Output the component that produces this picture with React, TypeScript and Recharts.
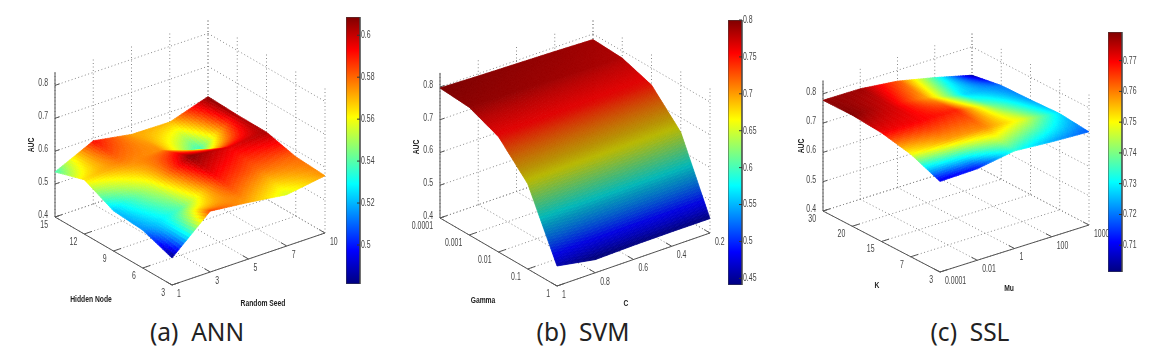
import { Bar, BarChart, Scatter, ScatterChart, XAxis, YAxis } from 'recharts';

const annSeeds = ['1', '3', '5', '7', '10'];
const annNodes = ['15', '12', '9', '6', '3'];
const annAuc = [
  [0.537, 0.592, 0.572, 0.57, 0.608],
  [0.565, 0.577, 0.575, 0.535, 0.604],
  [0.522, 0.555, 0.608, 0.596, 0.603],
  [0.515, 0.54, 0.59, 0.58, 0.58],
  [0.482, 0.585, 0.572, 0.556, 0.574],
];
const annBarTicks = [0.5, 0.52, 0.54, 0.56, 0.58, 0.6];

const svmC = ['1', '0.8', '0.6', '0.4', '0.2'];
const svmGamma = ['0.0001', '0.001', '0.01', '0.1', '1'];
const svmAuc = [
  [0.797, 0.793, 0.79, 0.787, 0.783],
  [0.79, 0.788, 0.785, 0.782, 0.778],
  [0.752, 0.751, 0.75, 0.749, 0.748],
  [0.66, 0.659, 0.658, 0.657, 0.656],
  [0.461, 0.44, 0.443, 0.444, 0.444],
];
const svmBarTicks = [0.45, 0.5, 0.55, 0.6, 0.65, 0.7, 0.75, 0.8];

const sslMu = ['0.0001', '0.01', '1', '100', '1000'];
const sslK = ['30', '20', '15', '7', '3'];
const sslAuc = [
  [0.778, 0.777, 0.763, 0.735, 0.703],
  [0.779, 0.773, 0.757, 0.728, 0.72],
  [0.771, 0.77, 0.767, 0.74, 0.723],
  [0.75, 0.757, 0.759, 0.748, 0.728],
  [0.709, 0.712, 0.733, 0.724, 0.718],
];
const sslBarTicks = [0.71, 0.72, 0.73, 0.74, 0.75, 0.76, 0.77];

const aucTicks = [0.4, 0.5, 0.6, 0.7, 0.8];

const W = 400;
const H = 358;
const FONT = '"Liberation Sans", Arial, sans-serif';
const TICK_NARROW = 0.63;
const TITLE_NARROW = 0.75;
const JET: [number, string][] = [
  [0, '#00007f'],
  [0.125, '#0000ff'],
  [0.375, '#00ffff'],
  [0.625, '#ffff00'],
  [0.875, '#ff0000'],
  [1, '#7f0000'],
];

type Pt = [number, number];
type PanelCfg = {
  id: string;
  left: number;
  L: Pt;
  B: Pt;
  F: Pt;
  zScale: number;
  zTop: number;
  uLabels: string[];
  vLabels: string[];
  auc: number[][];
  cMin: number;
  cMax: number;
  barTicks: number[];
  bar: { left: number; top: number; height: number };
  titles: { text: string; x: number; y: number; rotate?: number }[];
  dim: boolean;
  steps: number;
  blur: number;
};

const panels: PanelCfg[] = [
  {
    id: 'ann', left: 0, L: [55, 217], B: [208, 165], F: [172, 285], zScale: 329, zTop: 0.84,
    uLabels: annSeeds, vLabels: annNodes, auc: annAuc, cMin: 0.4814, cMax: 0.6087, barTicks: annBarTicks,
    bar: { left: 346, top: 17, height: 267 }, dim: false, steps: 16, blur: 0.3,
    titles: [
      { text: 'AUC', x: 32, y: 145, rotate: -90 },
      { text: 'Hidden Node', x: 91, y: 300 },
      { text: 'Random Seed', x: 263, y: 304 },
    ],
  },
  {
    id: 'svm', left: 390, L: [50, 218], B: [203, 165], F: [167, 286], zScale: 327.5, zTop: 0.843,
    uLabels: svmC, vLabels: svmGamma, auc: svmAuc, cMin: 0.441, cMax: 0.8, barTicks: svmBarTicks,
    bar: { left: 338, top: 20, height: 265 }, dim: true, steps: 32, blur: 0.3,
    titles: [
      { text: 'AUC', x: 27, y: 147, rotate: -90 },
      { text: 'Gamma', x: 93, y: 301 },
      { text: 'C', x: 236, y: 304 },
    ],
  },
  {
    id: 'ssl', left: 780, L: [43, 211], B: [192, 164], F: [160, 272], zScale: 293, zTop: 0.845,
    uLabels: sslMu, vLabels: sslK, auc: sslAuc, cMin: 0.7013, cMax: 0.7793, barTicks: sslBarTicks,
    bar: { left: 328, top: 32, height: 240 }, dim: false, steps: 16, blur: 0.6,
    titles: [
      { text: 'AUC', x: 22, y: 146, rotate: -90 },
      { text: 'K', x: 97, y: 286 },
      { text: 'Mu', x: 229, y: 289 },
    ],
  },
];

const captions = [
  { text: '(a)  ANN', center: 197 },
  { text: '(b)  SVM', center: 583 },
  { text: '(c)  SSL', center: 970 },
];

function hexRgb(hex: string) {
  return [1, 3, 5].map((i) => parseInt(hex.slice(i, i + 2), 16));
}

function jet(t: number, dim: boolean) {
  const c = Math.min(1, Math.max(0, t));
  let i = 0;
  while (i < JET.length - 2 && c > JET[i + 1][0]) i++;
  const [p0, h0] = JET[i];
  const [p1, h1] = JET[i + 1];
  const a = hexRgb(h0);
  const b = hexRgb(h1);
  const f = (c - p0) / (p1 - p0);
  let rgb = a.map((v, k) => v + (b[k] - v) * f);
  if (dim) {
    // the svm surface is lit: bright hues come out duller than on its colour bar
    const sum = rgb[0] + rgb[1] + rgb[2];
    const k = 0.92 - 0.2 * Math.min(1, Math.max(0, (sum - 200) / 255));
    rgb = rgb.map((v) => v * k);
  }
  return `rgb(${Math.round(rgb[0])},${Math.round(rgb[1])},${Math.round(rgb[2])})`;
}

function project(p: PanelCfg, u: number, v: number, z: number) {
  const fu = u / 4;
  const fv = v / 4;
  return {
    sx: p.L[0] + fu * (p.B[0] - p.L[0]) + fv * (p.F[0] - p.L[0]),
    sy: p.L[1] + fu * (p.B[1] - p.L[1]) + fv * (p.F[1] - p.L[1]) - (z - 0.4) * p.zScale,
  };
}

const NoDot = () => null;

// the scatter hands over the grid vertices in pixels, so the facets are shaded from those
function surfaceLine(p: PanelCfg) {
  return (props: any) => {
    const pts: { x: number; y: number }[] = props.points;
    const n = p.auc.length;
    const m = p.auc[0].length;
    const steps = p.steps;
    const cells = [];
    for (let v = 0; v < n - 1; v++) {
      for (let u = m - 2; u >= 0; u--) {
        const a = pts[v * m + u];
        const b = pts[v * m + u + 1];
        const c = pts[(v + 1) * m + u + 1];
        const d = pts[(v + 1) * m + u];
        const za = p.auc[v][u];
        const zb = p.auc[v][u + 1];
        const zc = p.auc[v + 1][u + 1];
        const zd = p.auc[v + 1][u];
        const at = (s: number, t: number) => ({
          x: (a.x * (1 - s) + b.x * s) * (1 - t) + (d.x * (1 - s) + c.x * s) * t,
          y: (a.y * (1 - s) + b.y * s) * (1 - t) + (d.y * (1 - s) + c.y * s) * t,
        });
        for (let j = 0; j < steps; j++) {
          for (let i = steps - 1; i >= 0; i--) {
            const s0 = i / steps;
            const s1 = (i + 1) / steps;
            const t0 = j / steps;
            const t1 = (j + 1) / steps;
            const sm = (s0 + s1) / 2;
            const tm = (t0 + t1) / 2;
            const z = (za * (1 - sm) + zb * sm) * (1 - tm) + (zd * (1 - sm) + zc * sm) * tm;
            const col = jet((z - p.cMin) / (p.cMax - p.cMin), p.dim);
            const q = [at(s0, t0), at(s1, t0), at(s1, t1), at(s0, t1)];
            cells.push(
              <polygon
                key={`${v}-${u}-${j}-${i}`}
                points={q.map((o) => `${o.x},${o.y}`).join(' ')}
                fill={col}
                stroke={col}
                strokeWidth={0.7}
              />,
            );
          }
        }
      }
    }
    return <g>{cells}</g>;
  };
}

function textShape(anchor: string, size: number, bold: boolean, dx: number, dy: number) {
  return (props: any) => {
    const rot = props.payload.rotate;
    const x = props.cx + dx;
    const y = props.cy + dy;
    return (
      <text
        x={0}
        y={0}
        textAnchor={anchor}
        dominantBaseline="middle"
        fontSize={size}
        fontWeight={bold ? 700 : 400}
        fontFamily={FONT}
        fill={bold ? '#222' : '#444'}
        transform={`translate(${x} ${y}) rotate(${rot || 0}) scale(${bold ? TITLE_NARROW : TICK_NARROW} 1)`}
      >
        {props.payload.label}
      </text>
    );
  };
}

function BarTick(props: any) {
  return (
    <text
      x={0}
      y={0}
      dominantBaseline="middle"
      fontSize={11}
      fontFamily={FONT}
      fill="#444"
      transform={`translate(${props.x} ${props.y}) scale(${TICK_NARROW} 1)`}
    >
      {String(props.payload.value)}
    </text>
  );
}

function buildSegments(p: PanelCfg) {
  const segs: { kind: 'grid' | 'axis'; data: { sx: number; sy: number }[] }[] = [];
  const grid = (a: number[], b: number[]) =>
    segs.push({ kind: 'grid', data: [project(p, a[0], a[1], a[2]), project(p, b[0], b[1], b[2])] });
  const axis = (a: number[], b: number[]) =>
    segs.push({ kind: 'axis', data: [project(p, a[0], a[1], a[2]), project(p, b[0], b[1], b[2])] });
  p.uLabels.forEach((_, u) => {
    grid([u, 0, 0.4], [u, 4, 0.4]);
    grid([u, 0, 0.4], [u, 0, p.zTop]);
    axis([u, 4, 0.4], [u, 3.8, 0.4]);
  });
  p.vLabels.forEach((_, v) => {
    grid([0, v, 0.4], [4, v, 0.4]);
    grid([4, v, 0.4], [4, v, p.zTop]);
    axis([0, v, 0.4], [0.2, v, 0.4]);
  });
  aucTicks.forEach((z) => {
    grid([0, 0, z], [4, 0, z]);
    grid([4, 0, z], [4, 4, z]);
    axis([0, 0, z], [0.12, 0, z]);
  });
  axis([0, 0, 0.4], [0, 0, p.zTop]);
  axis([0, 0, 0.4], [0, 4, 0.4]);
  axis([0, 4, 0.4], [4, 4, 0.4]);
  return segs;
}

function ColorBar({ p }: { p: PanelCfg }) {
  const barW = 14;
  const axisW = 34;
  const pad = 8;
  const gid = `jet-${p.id}`;
  return (
    <div style={{ position: 'absolute', left: p.bar.left, top: p.bar.top - pad }}>
      <BarChart
        width={barW + axisW}
        height={p.bar.height + pad * 2}
        data={[{ name: 'auc', range: [p.cMin, p.cMax] }]}
        margin={{ top: pad, right: 0, bottom: pad, left: 0 }}
        barCategoryGap={0}
      >
        <defs>
          <linearGradient id={gid} x1="0" y1="1" x2="0" y2="0">
            {JET.map(([pos, col]) => (
              <stop key={pos} offset={pos} stopColor={col} />
            ))}
          </linearGradient>
        </defs>
        <XAxis dataKey="name" hide />
        <YAxis
          orientation="right"
          width={axisW}
          type="number"
          domain={[p.cMin, p.cMax]}
          ticks={p.barTicks}
          interval={0}
          allowDataOverflow
          tickSize={-3}
          tickMargin={4}
          axisLine={{ stroke: '#444' }}
          tickLine={{ stroke: '#333' }}
          tick={BarTick}
        />
        <Bar dataKey="range" fill={`url(#${gid})`} stroke="#444" strokeWidth={1} isAnimationActive={false} />
      </BarChart>
    </div>
  );
}

function Panel({ p }: { p: PanelCfg }) {
  const vertices = p.auc.flatMap((row, v) => row.map((z, u) => project(p, u, v, z)));
  const segs = buildSegments(p);
  const aucLabels = aucTicks.map((z) => ({ ...project(p, 0, 0, z), label: String(z) }));
  const uTicks = p.uLabels.map((label, u) => ({ ...project(p, u, 4, 0.4), label }));
  const vTicks = p.vLabels.map((label, v) => ({ ...project(p, 0, v, 0.4), label }));
  const titles = p.titles.map((t) => ({ sx: t.x, sy: t.y, label: t.text, rotate: t.rotate }));
  return (
    <div style={{ position: 'absolute', left: p.left, top: 0, width: W, height: H, filter: `blur(${p.blur}px)` }}>
      <ScatterChart width={W} height={H} margin={{ top: 0, right: 0, bottom: 0, left: 0 }}>
        <XAxis type="number" dataKey="sx" domain={[0, W]} hide />
        <YAxis type="number" dataKey="sy" domain={[0, H]} reversed hide />
        {segs.map((s, i) => (
          <Scatter
            key={i}
            data={s.data}
            shape={NoDot}
            line={
              s.kind === 'grid'
                ? { stroke: '#888', strokeWidth: 1, strokeDasharray: '1 2.5' }
                : { stroke: '#555', strokeWidth: 1 }
            }
            isAnimationActive={false}
          />
        ))}
        <Scatter data={vertices} shape={NoDot} line={surfaceLine(p)} isAnimationActive={false} />
        <Scatter data={aucLabels} shape={textShape('end', 11, false, -7, -2)} isAnimationActive={false} />
        <Scatter data={uTicks} shape={textShape('start', 11, false, 5, 9)} isAnimationActive={false} />
        <Scatter data={vTicks} shape={textShape('end', 11, false, -7, 8)} isAnimationActive={false} />
        <Scatter data={titles} shape={textShape('middle', 9, true, 0, 0)} isAnimationActive={false} />
      </ScatterChart>
      <ColorBar p={p} />
    </div>
  );
}

export default function App() {
  return (
    <div style={{ position: 'absolute', left: 0, top: 0, width: 1173, height: 358, background: '#fff', overflow: 'hidden' }}>
      {panels.map((p) => (
        <Panel key={p.id} p={p} />
      ))}
      {captions.map((c) => (
        <div
          key={c.text}
          style={{
            position: 'absolute',
            left: c.center - 100,
            width: 200,
            top: 315,
            textAlign: 'center',
            whiteSpace: 'pre',
            fontFamily: '"Noto Sans", sans-serif',
            fontSize: 24.5,
            color: '#222',
          }}
        >
          {c.text}
        </div>
      ))}
    </div>
  );
}
